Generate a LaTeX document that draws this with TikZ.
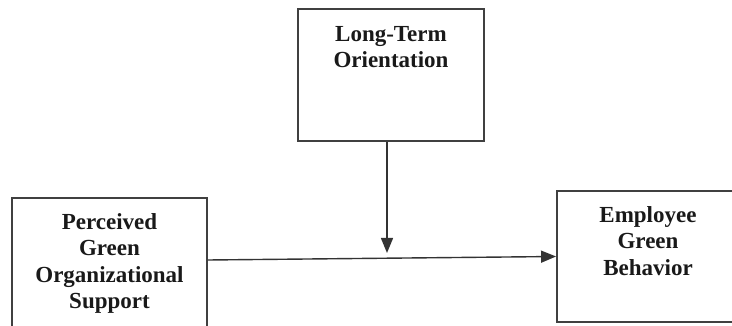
\documentclass[tikz,border=0pt]{standalone}
\usepackage{fontspec}
\setmainfont{Liberation Serif}
\usetikzlibrary{arrows.meta}
\begin{document}
\begin{tikzpicture}[x=1pt,y=1pt,
  box/.style={draw=black!75, line width=1.9pt, inner sep=0pt},
  lbl/.style={font=\bfseries\fontsize{23}{26.5}\selectfont, align=center, inner sep=0pt, anchor=north, text=black!90},
  conn/.style={draw=black!80, line width=1.4pt, -{Triangle[length=15pt,width=12pt]}}]
\useasboundingbox (0,0) rectangle (732,-326);
\begin{scope}
\clip (0,0) rectangle (732,-326);
\node[box, minimum width=186pt, minimum height=132pt] (lto) at (391,-75) {};
\node[box, minimum width=195pt, minimum height=134pt] (pgos) at (109.5,-265) {};
\node[box, minimum width=182pt, minimum height=131pt] (egb) at (648,-256.5) {};
\end{scope}
\node[lbl] (t1) at (391,-26) {Long-Term\\Orientation};
\node[lbl] (t2) at (109.5,-213) {Perceived\\Green\\Organizational\\Support};
\node[lbl] (t3) at (648,-206) {Employee\\Green\\Behavior};
\coordinate (tip) at (387,-253);
\draw[conn] (lto.south -| tip) -- (tip);
\draw[conn] ([yshift=5pt]pgos.east) -- (egb.west);
\end{tikzpicture}
\end{document}
